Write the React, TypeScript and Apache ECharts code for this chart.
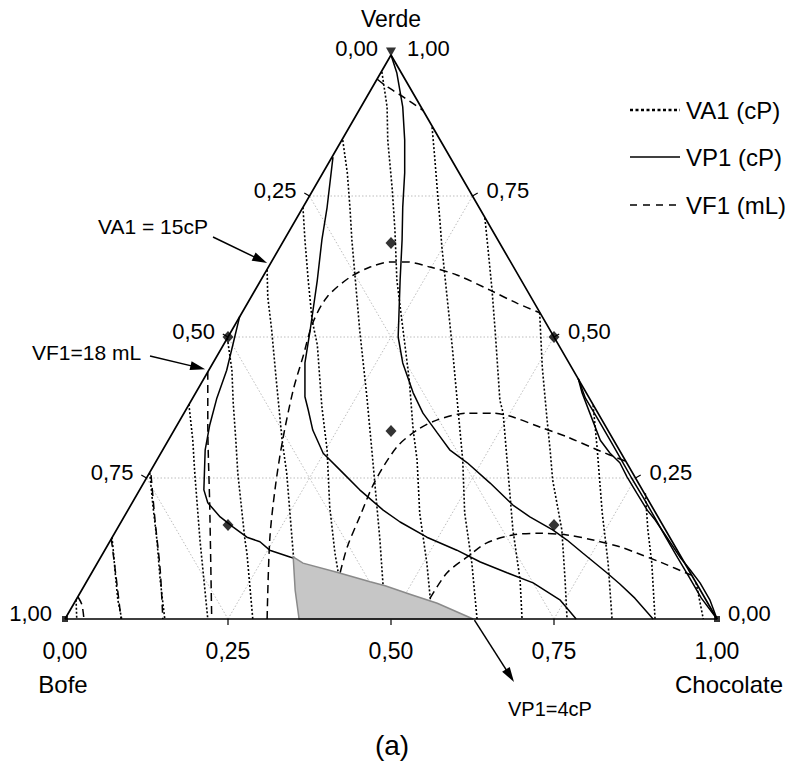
import React, { useEffect, useRef } from "react";
import * as echarts from "echarts";

// ---- data (x = position along the base 0..1, v = Verde fraction 0..1) ----
const TICKS = [0.25, 0.5, 0.75];
const BOTTOM_LABELS = ["0,00", "0,25", "0,50", "0,75", "1,00"];
const LEFT_LABELS = ["0,25", "0,50", "0,75"]; // at v = 0.75, 0.5, 0.25
const RIGHT_LABELS = ["0,75", "0,50", "0,25"]; // at v = 0.75, 0.5, 0.25

// design points [bofe, chocolate, verde]
const designPoints = [
  [0.5, 0, 0.5],
  [0, 0.5, 0.5],
  [1 / 6, 1 / 6, 2 / 3],
  [1 / 3, 1 / 3, 1 / 3],
  [2 / 3, 1 / 6, 1 / 6],
  [1 / 6, 2 / 3, 1 / 6],
];

// VA1 (cP) dotted contours
const va1Lines: number[][][] = [
  [[0.017, 0.034], [0.018, 0]],
  [[0.072, 0.145], [0.074, 0.122], [0.077, 0.082], [0.081, 0.034], [0.087, 0]],
  [[0.13, 0.259], [0.135, 0.199], [0.141, 0.14], [0.146, 0.069], [0.153, 0]],
  [[0.19, 0.381], [0.196, 0.317], [0.199, 0.259], [0.207, 0.14], [0.219, 0]],
  [[0.249, 0.498], [0.256, 0.441], [0.258, 0.383], [0.262, 0.317], [0.265, 0.259], [0.276, 0.14], [0.279, 0.117], [0.288, 0]],
  [[0.31, 0.619], [0.311, 0.571], [0.317, 0.512], [0.324, 0.424], [0.333, 0.317], [0.34, 0.259], [0.35, 0.117], [0.354, 0.069], [0.36, 0]],
  [[0.365, 0.73], [0.368, 0.672], [0.373, 0.601], [0.379, 0.53], [0.387, 0.486], [0.394, 0.376], [0.402, 0.3], [0.406, 0.199], [0.414, 0.117], [0.419, 0.083], [0.423, 0]],
  [[0.426, 0.849], [0.433, 0.791], [0.437, 0.73], [0.44, 0.672], [0.452, 0.512], [0.463, 0.394], [0.472, 0.282], [0.483, 0.14], [0.488, 0.057], [0.492, 0]],
  [[0.486, 0.97], [0.494, 0.908], [0.495, 0.849], [0.502, 0.761], [0.506, 0.69], [0.509, 0.601], [0.528, 0.424], [0.534, 0.335], [0.54, 0.282], [0.544, 0.188], [0.555, 0.099], [0.56, 0.039], [0.563, 0]],
  [[0.563, 0.872], [0.567, 0.819], [0.571, 0.761], [0.575, 0.707], [0.578, 0.66], [0.586, 0.571], [0.594, 0.482], [0.601, 0.394], [0.61, 0.282], [0.613, 0.188], [0.624, 0.099], [0.632, 0]],
  [[0.644, 0.711], [0.649, 0.654], [0.655, 0.583], [0.66, 0.507], [0.667, 0.388], [0.672, 0.365], [0.678, 0.282], [0.687, 0.158], [0.698, 0.069], [0.701, 0]],
  [[0.728, 0.543], [0.732, 0.447], [0.739, 0.358], [0.744, 0.3], [0.748, 0.246], [0.762, 0.158], [0.767, 0.069], [0.77, 0]],
  [[0.81, 0.379], [0.816, 0.305], [0.824, 0.188], [0.833, 0.099], [0.839, 0]],
  [[0.89, 0.223], [0.894, 0.158], [0.9, 0.099], [0.905, 0]],
  [[0.968, 0.064], [0.979, 0]],
];

// VF1 (mL) dashed contours
const vf1Lines: number[][][] = [
  [[0.02, 0.039], [0.026, 0.025], [0.029, 0]],
  [[0.071, 0.142], [0.078, 0.078], [0.086, 0]],
  [[0.132, 0.255], [0.138, 0.176], [0.146, 0.087], [0.15, 0]],
  [[0.219, 0.438], [0.219, 0.348], [0.222, 0.199], [0.225, 0]],
  [[0.31, 0], [0.314, 0.14], [0.322, 0.229], [0.333, 0.312], [0.35, 0.406], [0.365, 0.465], [0.38, 0.525], [0.402, 0.571], [0.437, 0.606], [0.468, 0.624], [0.498, 0.633], [0.525, 0.633], [0.56, 0.624], [0.601, 0.61], [0.652, 0.583], [0.693, 0.56], [0.728, 0.543]],
  [[0.422, 0.082], [0.433, 0.128], [0.452, 0.181], [0.475, 0.243], [0.509, 0.305], [0.54, 0.335], [0.571, 0.353], [0.617, 0.365], [0.656, 0.365], [0.687, 0.358], [0.729, 0.34], [0.77, 0.323], [0.816, 0.3], [0.859, 0.28]],
  [[0.56, 0.037], [0.586, 0.082], [0.617, 0.11], [0.647, 0.135], [0.687, 0.149], [0.729, 0.152], [0.77, 0.149], [0.81, 0.14], [0.851, 0.128], [0.877, 0.117], [0.917, 0.099], [0.96, 0.078]],
  [[0.479, 0.957], [0.49, 0.947], [0.502, 0.938], [0.521, 0.924], [0.55, 0.901]],
];

// VP1 (cP) solid contours
const vp1Lines: number[][][] = [
  [[0.5, 1.0], [0.509, 0.968], [0.518, 0.908], [0.521, 0.849], [0.521, 0.791], [0.518, 0.73], [0.517, 0.672], [0.514, 0.601], [0.511, 0.5], [0.518, 0.454], [0.534, 0.401], [0.549, 0.365], [0.571, 0.33], [0.59, 0.3], [0.617, 0.277], [0.652, 0.241], [0.687, 0.202], [0.713, 0.181], [0.748, 0.158], [0.77, 0.14], [0.794, 0.117], [0.831, 0.082], [0.851, 0.062], [0.874, 0.037], [0.902, 0]],
  [[0.411, 0.819], [0.402, 0.73], [0.394, 0.672], [0.387, 0.601], [0.376, 0.512], [0.368, 0.454], [0.368, 0.394], [0.373, 0.371], [0.38, 0.335], [0.396, 0.294], [0.422, 0.264], [0.452, 0.229], [0.488, 0.193], [0.514, 0.172], [0.555, 0.145], [0.601, 0.122], [0.637, 0.101], [0.678, 0.082], [0.718, 0.064], [0.759, 0.034], [0.784, 0]],
  [[0.268, 0.537], [0.258, 0.489], [0.248, 0.441], [0.233, 0.392], [0.222, 0.344], [0.215, 0.3], [0.213, 0.229], [0.219, 0.206], [0.238, 0.181], [0.258, 0.163], [0.279, 0.145], [0.299, 0.137], [0.314, 0.122], [0.345, 0.11], [0.35, 0.108]],
  [[0.787, 0.427], [0.793, 0.401], [0.805, 0.365], [0.821, 0.317], [0.836, 0.294], [0.851, 0.277], [0.862, 0.252], [0.877, 0.223], [0.893, 0.193], [0.905, 0.176], [0.923, 0.145], [0.943, 0.11], [0.959, 0.087], [0.974, 0.064], [0.989, 0.034], [1.0, 0]],
  [[0.787, 0.427], [0.798, 0.392], [0.818, 0.353], [0.836, 0.317], [0.852, 0.285], [0.869, 0.25], [0.887, 0.215], [0.905, 0.179], [0.922, 0.144], [0.94, 0.108], [0.958, 0.073], [0.976, 0.037], [1.0, 0]],
];

// shaded region VP1 = 4 cP
const vp1Region: number[][] = [
  [0.35, 0.11], [0.365, 0.099], [0.417, 0.083], [0.468, 0.066], [0.491, 0.059], [0.529, 0.044], [0.571, 0.028], [0.626, 0], [0.359, 0], [0.353, 0.051],
];

// ---- layout ----
const GRID = { left: 65, top: 55, width: 652, height: 564 };
const toPx = (x: number, v: number) => [GRID.left + GRID.width * x, GRID.top + GRID.height * (1 - v)];
const FONT = '"Liberation Sans", Arial, Helvetica, sans-serif';

function lineSeries(data: number[][], lineStyle: any, z: number, smooth: any = false) {
  return {
    type: "line",
    data,
    showSymbol: false,
    symbol: "none",
    silent: true,
    clip: false,
    smooth,
    z,
    lineStyle,
  };
}

function text(t: string, x: number, y: number, size: number, align = "center") {
  return {
    type: "text",
    silent: true,
    z: 100,
    style: { text: t, x, y, fill: "#000", fontSize: size, fontFamily: FONT, align, verticalAlign: "middle" },
  };
}

function arrow(tail: number[], tip: number[]) {
  const dx = tip[0] - tail[0];
  const dy = tip[1] - tail[1];
  const len = Math.hypot(dx, dy);
  const ux = dx / len;
  const uy = dy / len;
  const L = 15;
  const W = 4.5;
  const bx = tip[0] - ux * L;
  const by = tip[1] - uy * L;
  return [
    { type: "line", silent: true, z: 100, shape: { x1: tail[0], y1: tail[1], x2: bx + ux * 3, y2: by + uy * 3 }, style: { stroke: "#000", lineWidth: 1.5 } },
    {
      type: "polygon",
      silent: true,
      z: 100,
      shape: { points: [[tip[0], tip[1]], [bx - uy * W, by + ux * W], [bx + uy * W, by - ux * W]] },
      style: { fill: "#000" },
    },
  ];
}

export default function App() {
  const ref = useRef<HTMLDivElement>(null);
  useEffect(() => {
    document.body.style.margin = "0";
    const chart = echarts.init(ref.current!, undefined, { renderer: "svg" });

    const series: any[] = [];
    // grid lines
    const gridStyle = { color: "#bdbdbd", width: 1, type: [1.5, 2] };
    TICKS.forEach((t) => {
      series.push(lineSeries([[t / 2, t], [1 - t / 2, t]], gridStyle, 1));
      series.push(lineSeries([[t, 0], [t + (1 - t) / 2, 1 - t]], gridStyle, 1));
      series.push(lineSeries([[1 - t, 0], [(1 - t) / 2, 1 - t]], gridStyle, 1));
    });
    va1Lines.forEach((l) => series.push(lineSeries(l, { color: "#000", width: 1.6, type: [2, 2] }, 3)));
    vf1Lines.forEach((l) => series.push(lineSeries(l, { color: "#000", width: 1.5, type: [8, 5] }, 3, 0.3)));
    vp1Lines.forEach((l) => series.push(lineSeries(l, { color: "#000", width: 1.5 }, 3)));

    series.push({
      type: "custom",
      silent: true,
      clip: false,
      z: 5,
      data: [0],
      renderItem: (_p: any, api: any) => ({
        type: "polygon",
        shape: { points: vp1Region.map((p) => api.coord(p)) },
        style: { fill: "#c6c6c6", stroke: "#8a8a8a", lineWidth: 1.5 },
      }),
    });

    // triangle outline
    series.push(lineSeries([[0, 0], [1, 0], [0.5, 1], [0, 0]], { color: "#000", width: 1.7 }, 6));

    // design points
    series.push({
      type: "scatter",
      silent: true,
      clip: false,
      z: 8,
      symbol: "diamond",
      symbolSize: [11, 12],
      itemStyle: { color: "#000" },
      data: designPoints.map(([, c, v]) => [c + v / 2, v]),
    });
    series.push({
      type: "scatter",
      silent: true,
      clip: false,
      z: 8,
      symbol: "rect",
      symbolSize: 6,
      itemStyle: { color: "#000" },
      data: [[0, 0], [1, 0]],
    });
    series.push({
      type: "scatter",
      silent: true,
      clip: false,
      z: 8,
      symbol: "triangle",
      symbolRotate: 180,
      symbolSize: [10, 9],
      symbolOffset: [0, -3],
      itemStyle: { color: "#000" },
      data: [[0.5, 1]],
    });

    const graphic: any[] = [];
    // ticks
    TICKS.forEach((t) => {
      const b = toPx(t, 0);
      graphic.push({ type: "line", silent: true, shape: { x1: b[0], y1: b[1], x2: b[0], y2: b[1] + 6 }, style: { stroke: "#000", lineWidth: 1.2 } });
      const l = toPx(t / 2, t);
      graphic.push({ type: "line", silent: true, shape: { x1: l[0], y1: l[1], x2: l[0] - 5.2, y2: l[1] - 3 }, style: { stroke: "#000", lineWidth: 1.2 } });
      const r = toPx(1 - t / 2, t);
      graphic.push({ type: "line", silent: true, shape: { x1: r[0], y1: r[1], x2: r[0] + 5.2, y2: r[1] - 3 }, style: { stroke: "#000", lineWidth: 1.2 } });
    });
    // bottom labels
    BOTTOM_LABELS.forEach((s, i) => {
      const p = toPx(i / 4, 0);
      graphic.push(text(s, p[0], p[1] + 32, 23));
    });
    [0.75, 0.5, 0.25].forEach((v, i) => {
      const l = toPx(v / 2, v);
      graphic.push(text(LEFT_LABELS[i], l[0] - 13, l[1] - 6, 22, "right"));
      const r = toPx(1 - v / 2, v);
      graphic.push(text(RIGHT_LABELS[i], r[0] + 14, r[1] - 6, 22, "left"));
    });
    const a = toPx(0.5, 1);
    graphic.push(text("0,00", a[0] - 13, a[1] - 7, 22, "right"));
    graphic.push(text("1,00", a[0] + 16, a[1] - 7, 22, "left"));
    graphic.push(text("Verde", a[0], a[1] - 36, 23));
    const bl = toPx(0, 0);
    graphic.push(text("1,00", bl[0] - 13, bl[1] - 6, 22, "right"));
    graphic.push(text("Bofe", bl[0] - 2, bl[1] + 65, 24));
    const br = toPx(1, 0);
    graphic.push(text("0,00", br[0] + 11, br[1] - 6, 22, "left"));
    graphic.push(text("Chocolate", br[0] + 12, br[1] + 65, 24));
    graphic.push(text("(a)", 392, 745, 28));

    // annotations
    graphic.push(text("VA1 = 15cP", 98, 226, 21, "left"));
    graphic.push(...arrow([213, 237], toPx(0.31, 0.631)));
    graphic.push(text("VF1=18 mL", 32, 352, 21, "left"));
    graphic.push(...arrow([150, 356], toPx(0.215, 0.443)));
    graphic.push(text("VP1=4cP", 508, 709, 20, "left"));
    graphic.push(...arrow(toPx(0.628, -0.002), [514, 682]));

    // legend
    const legend = [
      { label: "VA1 (cP)", y: 110, dash: [3, 2.5], w: 2.6 },
      { label: "VP1 (cP)", y: 157, dash: null, w: 1.5 },
      { label: "VF1 (mL)", y: 205, dash: [7, 6], w: 1.5 },
    ];
    legend.forEach((it) => {
      graphic.push({
        type: "line",
        silent: true,
        shape: { x1: 630, y1: it.y, x2: 680, y2: it.y },
        style: { stroke: "#000", lineWidth: it.w, lineDash: it.dash || undefined },
      });
      graphic.push(text(it.label, 686, it.y, 24, "left"));
    });

    chart.setOption({
      animation: false,
      backgroundColor: "#fff",
      grid: { ...GRID, containLabel: false },
      xAxis: { type: "value", min: 0, max: 1, show: false },
      yAxis: { type: "value", min: 0, max: 1, show: false },
      series,
      graphic,
    });
    return () => chart.dispose();
  }, []);
  return <div ref={ref} style={{ width: 792, height: 764 }} />;
}
